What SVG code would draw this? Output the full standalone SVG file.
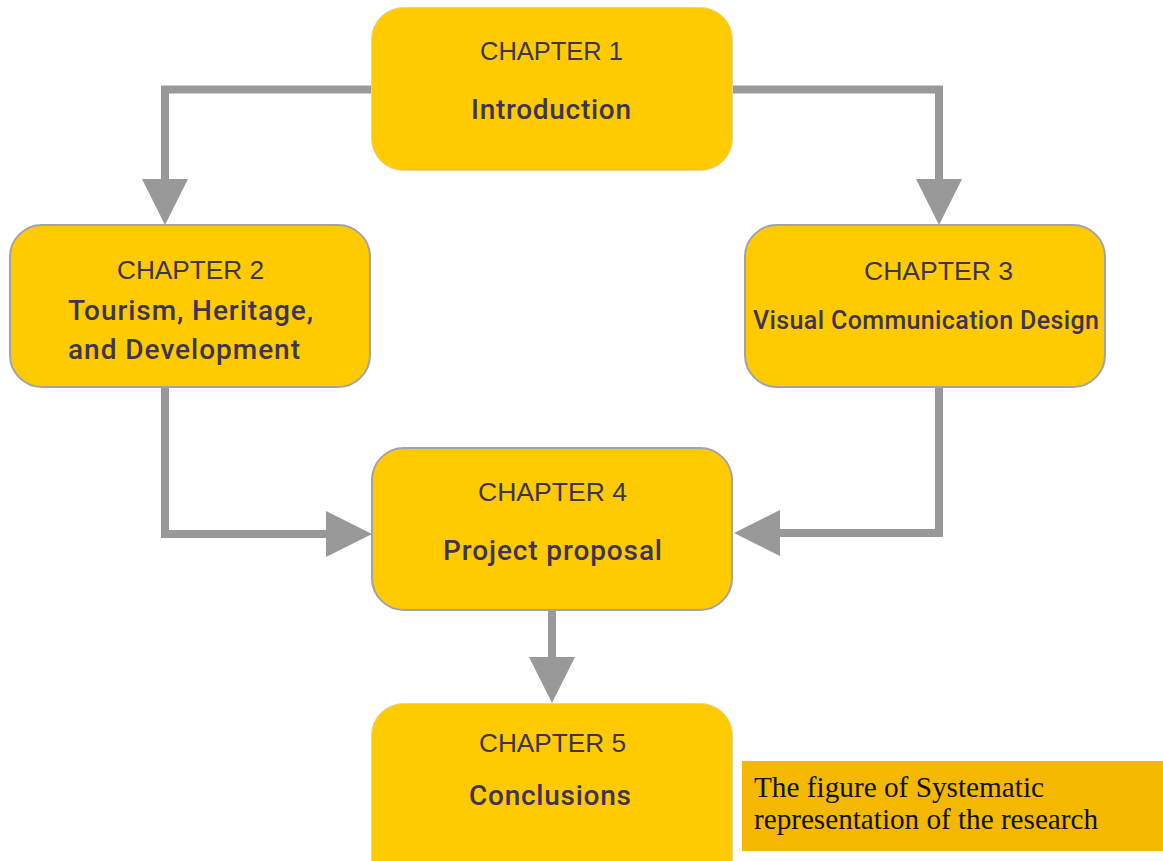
<svg xmlns="http://www.w3.org/2000/svg" width="1163" height="861" viewBox="0 0 1163 861">
  <style>
    .node { fill: #FFCB00; stroke: #A3A3A3; stroke-width: 2; }
    .node-soft { fill: #FFCB00; stroke: #E2D49A; stroke-width: 1; }
    .head { font-family: "Liberation Sans", Arial, sans-serif; font-size: 25.5px; fill: #3D3553; }
    .title { font-family: Roboto, "Liberation Sans", Arial, sans-serif; font-weight: 500; font-size: 28px; fill: #3D3553; }
    .conn { fill: none; stroke: #999999; stroke-width: 8; stroke-linejoin: miter; }
    .caption { font-family: "Liberation Serif", "Times New Roman", serif; font-size: 30px; fill: #111111; }
  </style>
  <defs>
    <marker id="arrow" markerUnits="userSpaceOnUse" markerWidth="46" markerHeight="46" refX="0" refY="23" orient="auto">
      <path d="M0,0 L46,23 L0,46 Z" fill="#999999"/>
    </marker>
  </defs>
  <rect width="1163" height="861" fill="#FFFFFF"/>

  <g id="connectors">
    <path class="conn" d="M372,89.5 H165 V179" marker-end="url(#arrow)"/>
    <path class="conn" d="M732,89.5 H939 V179" marker-end="url(#arrow)"/>
    <path class="conn" d="M165,387 V534 H326" marker-end="url(#arrow)"/>
    <path class="conn" d="M939,387 V533 H780" marker-end="url(#arrow)"/>
    <path class="conn" d="M552,611 V657" marker-end="url(#arrow)"/>
  </g>

  <g id="chapter1">
    <rect class="node-soft" x="371.5" y="7.5" width="361" height="163" rx="32"/>
    <text class="head" x="480" y="60" textLength="143" lengthAdjust="spacingAndGlyphs">CHAPTER 1</text>
    <text class="title" x="471" y="119" textLength="160">Introduction</text>
  </g>

  <g id="chapter2">
    <rect class="node" x="10" y="225" width="360" height="162" rx="32"/>
    <text class="head" x="117" y="279" textLength="147" lengthAdjust="spacingAndGlyphs">CHAPTER 2</text>
    <text class="title" x="68" y="320" textLength="245">Tourism, Heritage,</text>
    <text class="title" x="68" y="359" textLength="232">and Development</text>
  </g>

  <g id="chapter3">
    <rect class="node" x="745" y="225" width="360" height="162" rx="32"/>
    <text class="head" x="864" y="280" textLength="149" lengthAdjust="spacingAndGlyphs">CHAPTER 3</text>
    <text class="title" x="753" y="329" textLength="346" style="font-size:25px">Visual Communication Design</text>
  </g>

  <g id="chapter4">
    <rect class="node" x="372" y="448" width="360" height="162" rx="32"/>
    <text class="head" x="478" y="501" textLength="149" lengthAdjust="spacingAndGlyphs">CHAPTER 4</text>
    <text class="title" x="443" y="560" textLength="219">Project proposal</text>
  </g>

  <g id="chapter5">
    <rect class="node-soft" x="371.5" y="703.5" width="361" height="190" rx="32"/>
    <text class="head" x="479" y="752" textLength="147" lengthAdjust="spacingAndGlyphs">CHAPTER 5</text>
    <text class="title" x="469" y="805" textLength="162">Conclusions</text>
  </g>

  <g id="caption">
    <rect x="742" y="761" width="421" height="90" fill="#F5B800"/>
    <text class="caption" x="754" y="797" textLength="290" lengthAdjust="spacingAndGlyphs">The figure of Systematic</text>
    <text class="caption" x="754" y="829" textLength="344" lengthAdjust="spacingAndGlyphs">representation of the research</text>
  </g>
</svg>
